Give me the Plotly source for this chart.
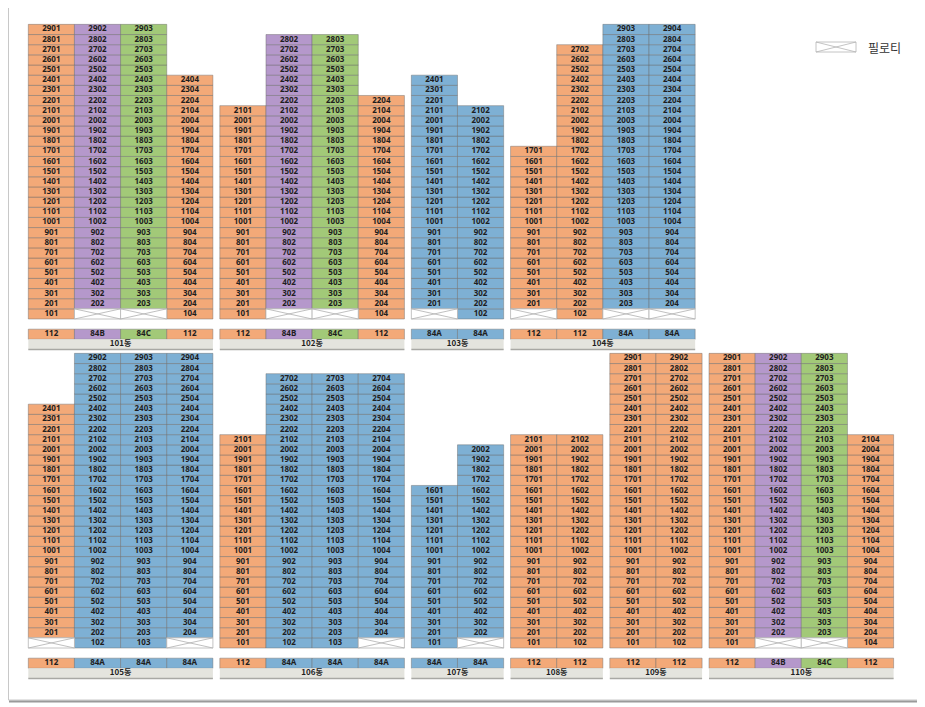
import plotly.graph_objects as go

# ---------------- data ----------------
names = ["101동", "102동", "103동", "104동", "105동", "106동", "107동", "108동", "109동", "110동"]
rows = [0, 0, 0, 0, 1, 1, 1, 1, 1, 1]
col_types = [
    ["112", "84B", "84C", "112"],
    ["112", "84B", "84C", "112"],
    ["84A", "84A"],
    ["112", "112", "84A", "84A"],
    ["112", "84A", "84A", "84A"],
    ["112", "84A", "84A", "84A"],
    ["84A", "84A"],
    ["112", "112"],
    ["112", "112"],
    ["112", "84B", "84C", "112"],
]
top_floors = [
    [29, 29, 29, 24],
    [21, 28, 28, 22],
    [24, 21],
    [17, 27, 29, 29],
    [24, 29, 29, 29],
    [21, 27, 27, 27],
    [16, 20],
    [21, 21],
    [29, 29],
    [29, 29, 29, 21],
]
pilotis = [
    [False, True, True, False],
    [False, True, True, False],
    [True, False],
    [True, False, True, True],
    [True, False, False, True],
    [False, False, False, True],
    [False, True],
    [False, False],
    [False, False],
    [False, True, True, False],
]
type_colors = {"112": "#F3A978", "84A": "#7EB0D4", "84B": "#B598CB", "84C": "#A2C978"}
legend_label = "필로티"

# ---------------- layout constants (figure pixels; page has 8px body margin) ----------------
W, H = 925, 707
COL_PX, ROW_PX, X0_PX = 46.15, 10.16, 20.3
ROW_BASE_PX = [311, 640]
GAP = 0.15
LINE = "rgba(105,105,105,0.55)"
TXT = "#1e1e1e"
NUMFONT = dict(family="Noto Sans", size=8, color=TXT, weight="bold")

# building start positions (in column units)
starts = []
cursor = {0: 0.0, 1: 0.0}
for r, t in zip(rows, col_types):
    starts.append(cursor[r])
    cursor[r] += len(t) + GAP

fig = go.Figure()
yrefs = ["y", "y2"]

for r in (0, 1):
    cx, cb, cc, ct, cy = [], [], [], [], []
    px, pb = [], []
    lx, ly = [], []
    tx, tc, tt = [], [], []
    nx, nw, nt = [], [], []
    bx0, bx1 = [], []
    for bi, name in enumerate(names):
        if rows[bi] != r:
            continue
        s = starts[bi]
        n = len(col_types[bi])
        for ci in range(n):
            xc = s + ci + 0.5
            first = 2 if pilotis[bi][ci] else 1
            for f in range(first, top_floors[bi][ci] + 1):
                cx.append(xc)
                cb.append(f - 1)
                cc.append(type_colors[col_types[bi][ci]])
                ct.append(str(f * 100 + ci + 1))
                cy.append(f - 0.5)
            if pilotis[bi][ci]:
                px.append(xc)
                pb.append(0)
                lx += [xc - 0.5, xc + 0.5, None, xc - 0.5, xc + 0.5, None]
                ly += [0, 1, None, 1, 0, None]
            tx.append(xc)
            tc.append(type_colors[col_types[bi][ci]])
            tt.append(col_types[bi][ci])
        nx.append(s + n / 2)
        nw.append(n)
        nt.append(name)
        bx0.append(s)
        bx1.append(s + n)

    yr = yrefs[r]
    # unit cells
    fig.add_trace(go.Bar(x=cx, y=[1] * len(cx), base=cb, width=1,
                         marker=dict(color=cc, line=dict(color=LINE, width=0.8)),
                         yaxis=yr, hoverinfo="skip", showlegend=False))
    # pilotis cells
    fig.add_trace(go.Bar(x=px, y=[1] * len(px), base=pb, width=1,
                         marker=dict(color="white", line=dict(color="#B5B5B5", width=0.8)),
                         yaxis=yr, hoverinfo="skip", showlegend=False))
    fig.add_trace(go.Scatter(x=lx, y=ly, mode="lines", line=dict(color="#B0B0B0", width=0.8),
                             yaxis=yr, hoverinfo="skip", showlegend=False))
    # type row
    fig.add_trace(go.Bar(x=tx, y=[1] * len(tx), base=[-2] * len(tx), width=1,
                         marker=dict(color=tc, line=dict(color=LINE, width=0.8)),
                         yaxis=yr, hoverinfo="skip", showlegend=False))
    # name row
    fig.add_trace(go.Bar(x=nx, y=[1] * len(nx), base=[-3] * len(nx), width=nw,
                         marker=dict(color="#E4E4DE", line=dict(width=0)),
                         yaxis=yr, hoverinfo="skip", showlegend=False))
    sx, sy = [], []
    for a, b in zip(bx0, bx1):
        sx += [a, b, None]
        sy += [-3, -3, None]
    fig.add_trace(go.Scatter(x=sx, y=sy, mode="lines", line=dict(color="#A8A8A4", width=1.5),
                             yaxis=yr, hoverinfo="skip", showlegend=False))
    # texts
    fig.add_trace(go.Scatter(x=cx, y=cy, mode="text", text=ct, textfont=NUMFONT,
                             yaxis=yr, hoverinfo="skip", showlegend=False))
    fig.add_trace(go.Scatter(x=tx, y=[-1.5] * len(tx), mode="text", text=tt, textfont=NUMFONT,
                             yaxis=yr, hoverinfo="skip", showlegend=False))
    fig.add_trace(go.Scatter(x=nx, y=[-2.5] * len(nx), mode="text", text=nt,
                             textfont=dict(family="Noto Sans CJK KR", size=8, color=TXT, weight="bold"),
                             yaxis=yr, hoverinfo="skip", showlegend=False))

xrange = [-X0_PX / COL_PX, (W - X0_PX) / COL_PX]
yr0 = [(ROW_BASE_PX[0] - H) / ROW_PX, ROW_BASE_PX[0] / ROW_PX]
yr1 = [(ROW_BASE_PX[1] - H) / ROW_PX, ROW_BASE_PX[1] / ROW_PX]

def pp(x, y):
    return x / W, 1 - y / H

def pline(xa, ya, xb, yb, color, width):
    a, b = pp(xa, ya), pp(xb, yb)
    return dict(type="line", xref="paper", yref="paper", x0=a[0], y0=a[1], x1=b[0], y1=b[1],
                line=dict(color=color, width=width))

shapes = []
# page frame (left, right, bottom edges)
shapes.append(pline(0.5, 0, 0.5, 692, "#C8C8C8", 1))
shapes.append(pline(910, 0, 910, 692, "#C8C8C8", 1))
shapes.append(pline(911.5, 0, 911.5, 693.5, "#9A9A9A", 2))
shapes.append(pline(0.5, 692, 910, 692, "#C8C8C8", 1))
shapes.append(pline(1, 693.5, 912, 693.5, "#9A9A9A", 2))
# legend swatch
shapes.append(pline(808, 34, 848, 34, "#B5B5B5", 0.8))
shapes.append(pline(808, 44, 848, 44, "#B5B5B5", 0.8))
shapes.append(pline(808, 34, 808, 44, "#B5B5B5", 0.8))
shapes.append(pline(848, 34, 848, 44, "#B5B5B5", 0.8))
shapes.append(pline(808, 34, 848, 44, "#B5B5B5", 0.8))
shapes.append(pline(808, 44, 848, 34, "#B5B5B5", 0.8))

lab = pp(858, 39)
fig.update_layout(
    width=W, height=H,
    margin=dict(l=0, r=0, t=0, b=0),
    paper_bgcolor="white", plot_bgcolor="white",
    barmode="overlay",
    xaxis=dict(range=xrange, visible=False, fixedrange=True),
    yaxis=dict(range=yr0, visible=False, fixedrange=True),
    yaxis2=dict(range=yr1, visible=False, overlaying="y", fixedrange=True),
    shapes=shapes,
    annotations=[dict(text=legend_label, xref="paper", yref="paper",
                      x=lab[0], y=lab[1], xanchor="left", yanchor="middle", showarrow=False,
                      font=dict(family="Noto Sans CJK KR", size=12, color="#333"))],
    showlegend=False,
)

fig.write_html("out.html")
